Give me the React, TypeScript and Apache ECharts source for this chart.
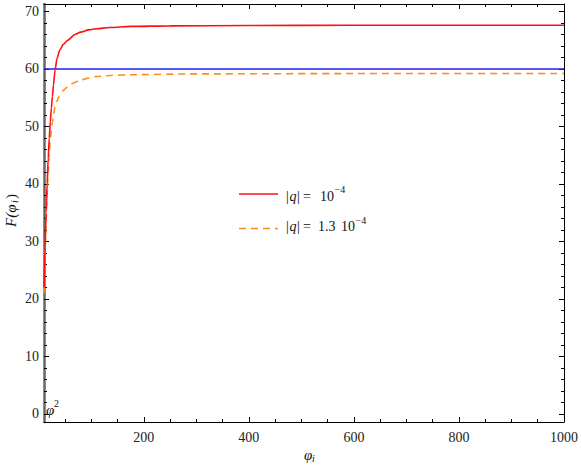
import React, { useEffect, useRef } from "react";
import * as echarts from "echarts";

const phiRed = [10, 12, 14, 16, 18, 20, 22, 24, 26, 28, 31, 35, 40, 47, 55, 69, 80, 95, 110, 135, 175, 250, 400, 600, 1000];
const fRed = [22, 29, 35, 40, 44.5, 48, 50.8, 53.2, 55.2, 57.2, 59.8, 61.9, 63.3, 64.3, 65, 66, 66.4, 66.8, 67.0, 67.2, 67.4, 67.5, 67.55, 67.6, 67.6];
const phiOrange = [10, 12, 14, 16, 18, 20, 22, 24, 26, 28, 31, 35, 39, 47, 57, 67, 78, 95, 110, 140, 173, 300, 600, 1000];
const fOrange = [21, 27.5, 33, 38, 42, 45.5, 47.6, 49.3, 50.7, 52, 53.4, 54.5, 55.3, 56.3, 57.1, 57.6, 58.0, 58.4, 58.7, 58.9, 59.0, 59.15, 59.2, 59.2];
const phiBlue = [10, 1000];
const fBlue = [60, 60];

const xMajor = [200, 400, 600, 800, 1000];
const xMinor = [50, 100, 150, 250, 300, 350, 450, 500, 550, 650, 700, 750, 850, 900, 950];
const yMajor = [0, 10, 20, 30, 40, 50, 60, 70];
const yMinor = [2, 4, 6, 8, 12, 14, 16, 18, 22, 24, 26, 28, 32, 34, 36, 38, 42, 44, 46, 48, 52, 54, 56, 58, 62, 64, 66, 68];

const X_MIN = 10;
const X_MAX = 1000;
const Y_MIN = -1.4;
const Y_MAX = 71.3;
const FONT = "Liberation Serif";

function zip(a: number[], b: number[]) {
  return a.map((v, i) => [v, b[i]]);
}

const plain = (v: number) => String(v);

function xAx(position: string, ticks: number[], len: number, labels: boolean, line: boolean) {
  return {
    type: "value",
    position,
    min: X_MIN,
    max: X_MAX,
    axisLine: { show: line, onZero: false, lineStyle: { color: "#000", width: 1 } },
    axisTick: { show: true, inside: true, length: len, customValues: ticks, lineStyle: { color: "#000", width: 1 } },
    axisLabel: {
      show: labels,
      customValues: ticks,
      formatter: plain,
      margin: 8,
      color: "#222",
      fontFamily: FONT,
      fontSize: 14,
    },
    splitLine: { show: false },
  };
}

function yAx(position: string, ticks: number[], len: number, labels: boolean, line: boolean, lineColor: string, lineWidth: number) {
  return {
    type: "value",
    position,
    min: Y_MIN,
    max: Y_MAX,
    axisLine: { show: line, onZero: false, lineStyle: { color: lineColor, width: lineWidth } },
    axisTick: { show: true, inside: true, length: len, customValues: ticks, lineStyle: { color: "#000", width: 1 } },
    axisLabel: {
      show: labels,
      customValues: ticks,
      formatter: plain,
      margin: 5,
      color: "#222",
      fontFamily: FONT,
      fontSize: 14,
    },
    splitLine: { show: false },
  };
}

function txt(x: number, y: number, text: string, size: number, italic: boolean, align = "left") {
  return {
    type: "text",
    x,
    y,
    style: {
      text,
      fontFamily: FONT,
      fontSize: size,
      fontStyle: italic ? "italic" : "normal",
      fill: "#111",
      align,
      verticalAlign: "middle",
    },
  };
}

export default function App() {
  const ref = useRef<HTMLDivElement>(null);
  useEffect(() => {
    if (!ref.current) return;
    const chart = echarts.init(ref.current, null, { renderer: "svg" });
    chart.setOption({
      animation: false,
      backgroundColor: "#fff",
      grid: { left: 44, right: 15, top: 4, bottom: 50, containLabel: false },
      xAxis: [
        xAx("bottom", xMajor, 5, true, true),
        xAx("bottom", xMinor, 3, false, false),
        xAx("top", xMajor, 5, false, true),
        xAx("top", xMinor, 3, false, false),
      ],
      yAxis: [
        yAx("left", yMajor, 5, true, true, "#666", 2.5),
        yAx("left", yMinor, 3, false, false, "#666", 1),
        yAx("right", yMajor, 5, false, true, "#000", 1),
        yAx("right", yMinor, 3, false, false, "#000", 1),
      ],
      series: [
        {
          type: "line",
          data: zip(phiBlue, fBlue),
          showSymbol: false,
          lineStyle: { color: "#2020f0", width: 1.6 },
          z: 2,
        },
        {
          type: "line",
          data: zip(phiOrange, fOrange),
          showSymbol: false,
          smooth: 0.25,
          smoothMonotone: "x",
          lineStyle: { color: "#ff8c1a", width: 1.6, type: [7, 5] },
          z: 3,
        },
        {
          type: "line",
          data: zip(phiRed, fRed),
          showSymbol: false,
          smooth: 0.25,
          smoothMonotone: "x",
          lineStyle: { color: "#ff1010", width: 1.6 },
          z: 4,
        },
      ],
      graphic: [
        // legend
        { type: "line", shape: { x1: 239, y1: 194, x2: 278, y2: 194 }, style: { stroke: "#ff1010", lineWidth: 1.6 } },
        { type: "line", shape: { x1: 239, y1: 228.5, x2: 278, y2: 228.5 }, style: { stroke: "#ff8c1a", lineWidth: 1.6, lineDash: [7, 5] } },
        txt(286, 196, "|", 14, false),
        txt(289.5, 196, "q", 14, true),
        txt(297, 196, "|", 14, false),
        txt(303, 196, "=", 14, false),
        txt(320, 196, "10", 14, false),
        txt(334.5, 189.5, "−4", 10, false),
        txt(286, 226.5, "|", 14, false),
        txt(289.5, 226.5, "q", 14, true),
        txt(297, 226.5, "|", 14, false),
        txt(303, 226.5, "=", 14, false),
        txt(318, 226.5, "1.3", 14, false),
        txt(341, 226.5, "10", 14, false),
        txt(355.5, 220, "−4", 10, false),
        // phi^2 label
        txt(46, 410, "φ", 15, true),
        txt(54, 403, "2", 10, false),
        // x axis name
        txt(304, 455, "φ", 15, true),
        txt(312, 458, "i", 10, true),
        // y axis name (rotated)
        {
          type: "group",
          x: 11,
          y: 207,
          rotation: Math.PI / 2,
          children: [
            txt(-20, 0, "F(φ", 15, true),
            txt(4, 3, "i", 10, true),
            txt(8, 0, ")", 15, false),
          ],
        },
      ],
    });
    return () => chart.dispose();
  }, []);
  return <div ref={ref} style={{ position: "absolute", left: 0, top: 0, width: 581, height: 472 }} />;
}
